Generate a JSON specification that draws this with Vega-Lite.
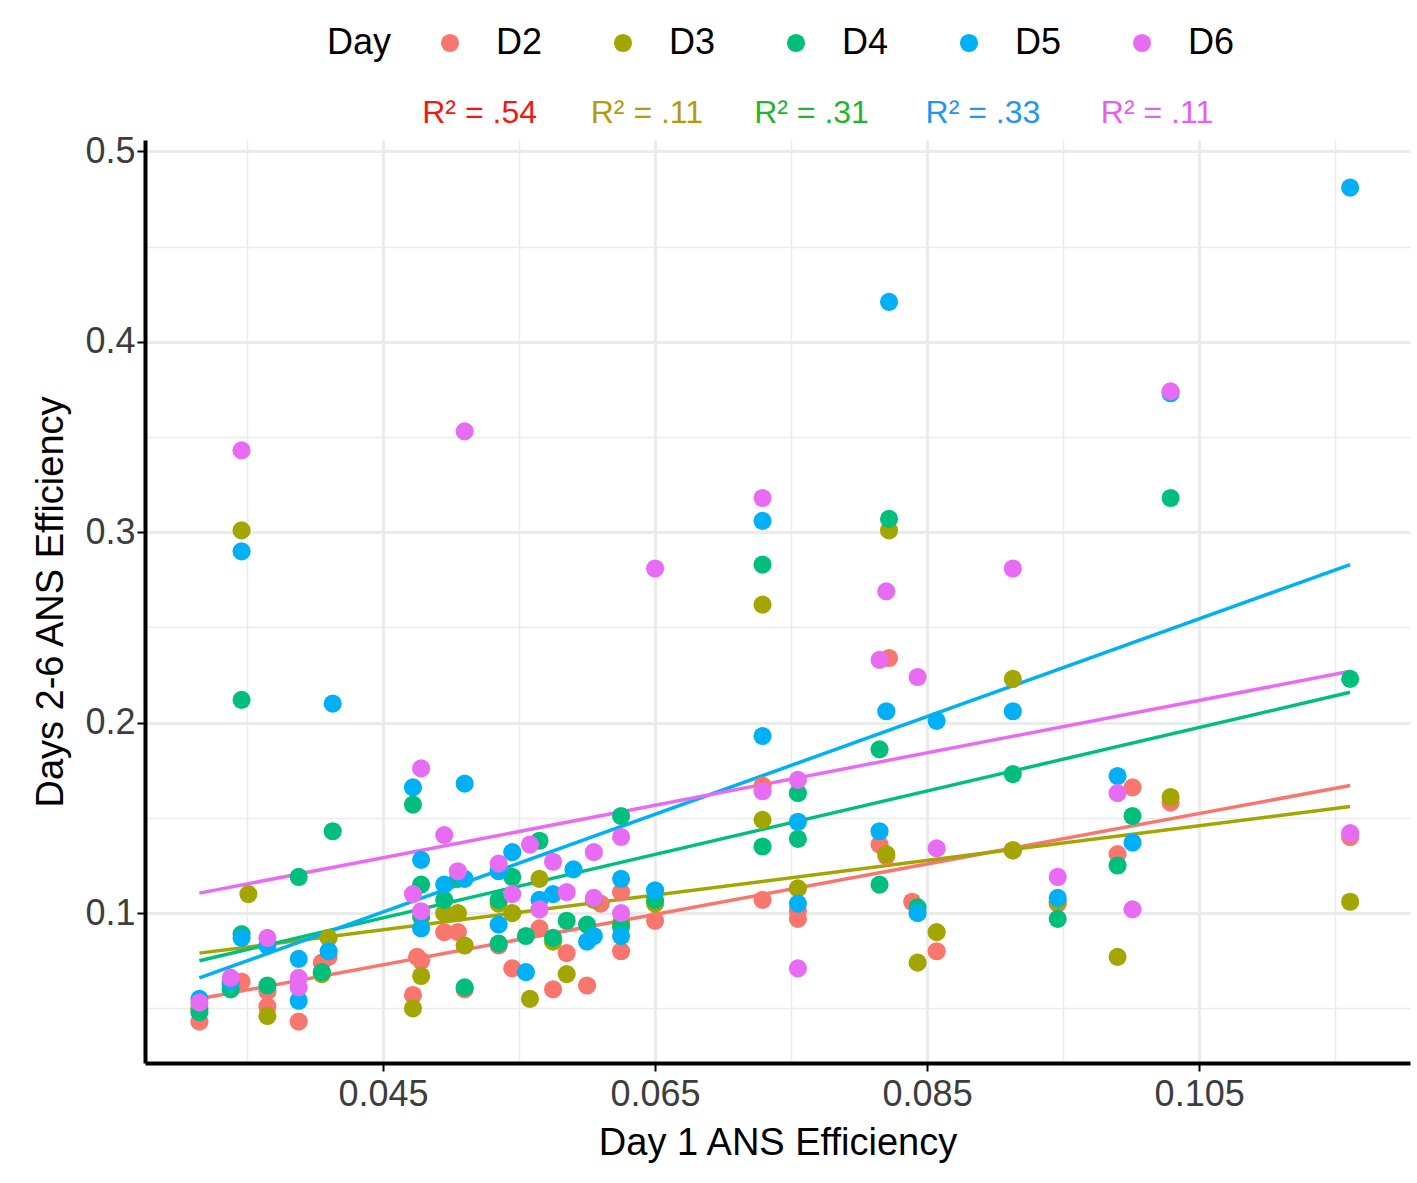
{
  "$schema": "https://vega.github.io/schema/vega-lite/v6.json",
  "width": 1265,
  "height": 923,
  "autosize": "none",
  "padding": {"left": 145, "top": 140, "right": 7, "bottom": 120},
  "background": "white",
  "config": {
    "font": "Liberation Sans",
    "view": {"stroke": null},
    "axis": {"gridColor": "#ebebeb", "domainColor": "black", "domainWidth": 4, "tickColor": "black", "tickWidth": 2, "tickSize": 8, "labelFontSize": 36, "labelColor": "#3d3d3d", "titleFontSize": 38, "titleFontWeight": "normal", "titleColor": "black"}
  },
  "datasets": {
    "pts": [
      {"day":"D2","x":0.0315,"y":0.043},{"day":"D2","x":0.0338,"y":0.063},{"day":"D2","x":0.0346,"y":0.064},{"day":"D2","x":0.0365,"y":0.051},{"day":"D2","x":0.0365,"y":0.059},{"day":"D2","x":0.0388,"y":0.043},{"day":"D2","x":0.0405,"y":0.074},{"day":"D2","x":0.041,"y":0.077},{"day":"D2","x":0.0472,"y":0.057},{"day":"D2","x":0.0475,"y":0.077},{"day":"D2","x":0.0478,"y":0.075},{"day":"D2","x":0.0495,"y":0.090},{"day":"D2","x":0.0505,"y":0.090},{"day":"D2","x":0.051,"y":0.060},{"day":"D2","x":0.0535,"y":0.083},{"day":"D2","x":0.0545,"y":0.071},{"day":"D2","x":0.0565,"y":0.092},{"day":"D2","x":0.0575,"y":0.060},{"day":"D2","x":0.0585,"y":0.079},{"day":"D2","x":0.060,"y":0.062},{"day":"D2","x":0.061,"y":0.105},{"day":"D2","x":0.0625,"y":0.111},{"day":"D2","x":0.0625,"y":0.080},{"day":"D2","x":0.065,"y":0.096},{"day":"D2","x":0.0729,"y":0.107},{"day":"D2","x":0.0729,"y":0.167},{"day":"D2","x":0.0755,"y":0.097},{"day":"D2","x":0.0755,"y":0.101},{"day":"D2","x":0.0815,"y":0.136},{"day":"D2","x":0.082,"y":0.130},{"day":"D2","x":0.0822,"y":0.234},{"day":"D2","x":0.0839,"y":0.106},{"day":"D2","x":0.0857,"y":0.080},{"day":"D2","x":0.0913,"y":0.133},{"day":"D2","x":0.0946,"y":0.105},{"day":"D2","x":0.099,"y":0.131},{"day":"D2","x":0.1001,"y":0.166},{"day":"D2","x":0.1029,"y":0.158},{"day":"D2","x":0.1161,"y":0.140},
      {"day":"D3","x":0.0315,"y":0.050},{"day":"D3","x":0.0338,"y":0.062},{"day":"D3","x":0.0346,"y":0.301},{"day":"D3","x":0.0351,"y":0.110},{"day":"D3","x":0.0365,"y":0.046},{"day":"D3","x":0.0405,"y":0.068},{"day":"D3","x":0.041,"y":0.087},{"day":"D3","x":0.0472,"y":0.050},{"day":"D3","x":0.0478,"y":0.067},{"day":"D3","x":0.0495,"y":0.100},{"day":"D3","x":0.0505,"y":0.100},{"day":"D3","x":0.051,"y":0.083},{"day":"D3","x":0.0535,"y":0.105},{"day":"D3","x":0.0545,"y":0.100},{"day":"D3","x":0.0558,"y":0.055},{"day":"D3","x":0.0565,"y":0.118},{"day":"D3","x":0.0575,"y":0.085},{"day":"D3","x":0.0585,"y":0.068},{"day":"D3","x":0.0605,"y":0.107},{"day":"D3","x":0.0625,"y":0.095},{"day":"D3","x":0.065,"y":0.105},{"day":"D3","x":0.0729,"y":0.262},{"day":"D3","x":0.0729,"y":0.149},{"day":"D3","x":0.0755,"y":0.113},{"day":"D3","x":0.082,"y":0.131},{"day":"D3","x":0.0822,"y":0.301},{"day":"D3","x":0.0843,"y":0.074},{"day":"D3","x":0.0857,"y":0.090},{"day":"D3","x":0.0913,"y":0.223},{"day":"D3","x":0.0913,"y":0.133},{"day":"D3","x":0.0946,"y":0.106},{"day":"D3","x":0.099,"y":0.077},{"day":"D3","x":0.1029,"y":0.161},{"day":"D3","x":0.1161,"y":0.106},
      {"day":"D4","x":0.0315,"y":0.048},{"day":"D4","x":0.0338,"y":0.060},{"day":"D4","x":0.0346,"y":0.212},{"day":"D4","x":0.0346,"y":0.089},{"day":"D4","x":0.0365,"y":0.062},{"day":"D4","x":0.0388,"y":0.119},{"day":"D4","x":0.0405,"y":0.069},{"day":"D4","x":0.0413,"y":0.143},{"day":"D4","x":0.0472,"y":0.157},{"day":"D4","x":0.0478,"y":0.115},{"day":"D4","x":0.0478,"y":0.098},{"day":"D4","x":0.0495,"y":0.107},{"day":"D4","x":0.0505,"y":0.118},{"day":"D4","x":0.051,"y":0.061},{"day":"D4","x":0.0535,"y":0.107},{"day":"D4","x":0.0535,"y":0.084},{"day":"D4","x":0.0545,"y":0.119},{"day":"D4","x":0.0555,"y":0.088},{"day":"D4","x":0.0565,"y":0.138},{"day":"D4","x":0.0575,"y":0.087},{"day":"D4","x":0.0585,"y":0.096},{"day":"D4","x":0.060,"y":0.094},{"day":"D4","x":0.0625,"y":0.151},{"day":"D4","x":0.0625,"y":0.093},{"day":"D4","x":0.065,"y":0.107},{"day":"D4","x":0.0729,"y":0.283},{"day":"D4","x":0.0729,"y":0.135},{"day":"D4","x":0.0755,"y":0.163},{"day":"D4","x":0.0755,"y":0.139},{"day":"D4","x":0.0815,"y":0.115},{"day":"D4","x":0.0815,"y":0.186},{"day":"D4","x":0.0822,"y":0.307},{"day":"D4","x":0.0843,"y":0.103},{"day":"D4","x":0.0913,"y":0.173},{"day":"D4","x":0.0946,"y":0.097},{"day":"D4","x":0.099,"y":0.125},{"day":"D4","x":0.1001,"y":0.151},{"day":"D4","x":0.1029,"y":0.318},{"day":"D4","x":0.1161,"y":0.223},
      {"day":"D5","x":0.0315,"y":0.055},{"day":"D5","x":0.0338,"y":0.064},{"day":"D5","x":0.0346,"y":0.290},{"day":"D5","x":0.0346,"y":0.087},{"day":"D5","x":0.0365,"y":0.083},{"day":"D5","x":0.0388,"y":0.076},{"day":"D5","x":0.0388,"y":0.054},{"day":"D5","x":0.041,"y":0.080},{"day":"D5","x":0.0413,"y":0.210},{"day":"D5","x":0.0472,"y":0.166},{"day":"D5","x":0.0478,"y":0.128},{"day":"D5","x":0.0478,"y":0.092},{"day":"D5","x":0.0495,"y":0.115},{"day":"D5","x":0.051,"y":0.168},{"day":"D5","x":0.051,"y":0.118},{"day":"D5","x":0.0535,"y":0.122},{"day":"D5","x":0.0535,"y":0.094},{"day":"D5","x":0.0545,"y":0.132},{"day":"D5","x":0.0555,"y":0.069},{"day":"D5","x":0.0565,"y":0.107},{"day":"D5","x":0.0575,"y":0.110},{"day":"D5","x":0.059,"y":0.123},{"day":"D5","x":0.060,"y":0.085},{"day":"D5","x":0.0605,"y":0.088},{"day":"D5","x":0.0625,"y":0.118},{"day":"D5","x":0.0625,"y":0.088},{"day":"D5","x":0.065,"y":0.112},{"day":"D5","x":0.0729,"y":0.193},{"day":"D5","x":0.0729,"y":0.306},{"day":"D5","x":0.0755,"y":0.148},{"day":"D5","x":0.0755,"y":0.105},{"day":"D5","x":0.0815,"y":0.143},{"day":"D5","x":0.082,"y":0.206},{"day":"D5","x":0.0822,"y":0.421},{"day":"D5","x":0.0843,"y":0.100},{"day":"D5","x":0.0857,"y":0.201},{"day":"D5","x":0.0913,"y":0.206},{"day":"D5","x":0.0946,"y":0.108},{"day":"D5","x":0.099,"y":0.172},{"day":"D5","x":0.1001,"y":0.137},{"day":"D5","x":0.1029,"y":0.373},{"day":"D5","x":0.1161,"y":0.481},
      {"day":"D6","x":0.0315,"y":0.053},{"day":"D6","x":0.0338,"y":0.066},{"day":"D6","x":0.0346,"y":0.343},{"day":"D6","x":0.0365,"y":0.087},{"day":"D6","x":0.0388,"y":0.066},{"day":"D6","x":0.0388,"y":0.061},{"day":"D6","x":0.0472,"y":0.110},{"day":"D6","x":0.0478,"y":0.176},{"day":"D6","x":0.0478,"y":0.101},{"day":"D6","x":0.0495,"y":0.141},{"day":"D6","x":0.0505,"y":0.122},{"day":"D6","x":0.051,"y":0.353},{"day":"D6","x":0.0535,"y":0.126},{"day":"D6","x":0.0545,"y":0.110},{"day":"D6","x":0.0558,"y":0.136},{"day":"D6","x":0.0565,"y":0.102},{"day":"D6","x":0.0575,"y":0.127},{"day":"D6","x":0.0585,"y":0.111},{"day":"D6","x":0.0605,"y":0.108},{"day":"D6","x":0.0605,"y":0.132},{"day":"D6","x":0.0625,"y":0.140},{"day":"D6","x":0.0625,"y":0.100},{"day":"D6","x":0.065,"y":0.281},{"day":"D6","x":0.0729,"y":0.318},{"day":"D6","x":0.0729,"y":0.164},{"day":"D6","x":0.0755,"y":0.170},{"day":"D6","x":0.0755,"y":0.071},{"day":"D6","x":0.0815,"y":0.233},{"day":"D6","x":0.082,"y":0.269},{"day":"D6","x":0.0843,"y":0.224},{"day":"D6","x":0.0857,"y":0.134},{"day":"D6","x":0.0913,"y":0.281},{"day":"D6","x":0.0946,"y":0.119},{"day":"D6","x":0.099,"y":0.163},{"day":"D6","x":0.1001,"y":0.102},{"day":"D6","x":0.1029,"y":0.374},{"day":"D6","x":0.1161,"y":0.142}
    ],
    "fits": [
      {"day":"D2","x":0.0315,"y":0.055},{"day":"D2","x":0.1161,"y":0.167},
      {"day":"D3","x":0.0315,"y":0.079},{"day":"D3","x":0.1161,"y":0.156},
      {"day":"D4","x":0.0315,"y":0.075},{"day":"D4","x":0.1161,"y":0.216},
      {"day":"D5","x":0.0315,"y":0.066},{"day":"D5","x":0.1161,"y":0.283},
      {"day":"D6","x":0.0315,"y":0.1105},{"day":"D6","x":0.1161,"y":0.227}
    ],
    "r2": [
      {"label":"R² = .54","x":0.0521,"y":0.52,"c":"#f8150e"},
      {"label":"R² = .11","x":0.0644,"y":0.52,"c":"#b59a0a"},
      {"label":"R² = .31","x":0.0765,"y":0.52,"c":"#1fb52a"},
      {"label":"R² = .33","x":0.0891,"y":0.52,"c":"#1e96f5"},
      {"label":"R² = .11","x":0.1019,"y":0.52,"c":"#e45ff0"}
    ]
  },
  "layer": [
    {
      "data": {"name": "fits"},
      "mark": {"type": "line", "strokeWidth": 3.5},
      "encoding": {
        "x": {"field": "x", "type": "quantitative", "scale": {"domain": [0.0275, 0.1205], "nice": false, "zero": false},
          "axis": {"values": [0.035, 0.045, 0.055, 0.065, 0.075, 0.085, 0.095, 0.105, 0.115],
            "labelExpr": "indexof([0.045,0.065,0.085,0.105], datum.value) >= 0 ? format(datum.value, '.3f') : ''",
            "tickOpacity": {"condition": {"test": "indexof([0.045,0.065,0.085,0.105], datum.value) >= 0", "value": 1}, "value": 0},
            "gridWidth": {"condition": {"test": "indexof([0.045,0.065,0.085,0.105], datum.value) >= 0", "value": 3}, "value": 1.5},
            "title": "Day 1 ANS Efficiency", "titlePadding": 12, "labelPadding": 6}},
        "y": {"field": "y", "type": "quantitative", "scale": {"domain": [0.0213, 0.506], "nice": false, "zero": false},
          "axis": {"values": [0.05, 0.1, 0.15, 0.2, 0.25, 0.3, 0.35, 0.4, 0.45, 0.5],
            "labelExpr": "indexof([0.1,0.2,0.3,0.4,0.5], datum.value) >= 0 ? format(datum.value, '.1f') : ''",
            "tickOpacity": {"condition": {"test": "indexof([0.1,0.2,0.3,0.4,0.5], datum.value) >= 0", "value": 1}, "value": 0},
            "gridWidth": {"condition": {"test": "indexof([0.1,0.2,0.3,0.4,0.5], datum.value) >= 0", "value": 3}, "value": 1.5},
            "title": "Days 2-6 ANS Efficiency", "titlePadding": 14}},
        "color": {"field": "day", "type": "nominal",
          "scale": {"domain": ["D2", "D3", "D4", "D5", "D6"], "range": ["#F8766D", "#A3A500", "#00BF7D", "#00B0F6", "#E76BF3"]},
          "legend": {"orient": "none", "legendX": 182, "legendY": -115, "direction": "horizontal", "title": "Day", "titleOrient": "left", "titleFontSize": 36, "titleFontWeight": "normal", "labelFontSize": 36, "symbolType": "circle", "symbolSize": 330, "symbolStrokeWidth": 0, "symbolOpacity": 1, "columnPadding": 62, "labelOffset": 28, "titlePadding": 40}}
      }
    },
    {
      "data": {"name": "pts"},
      "mark": {"type": "circle", "size": 330, "opacity": 1},
      "encoding": {
        "x": {"field": "x", "type": "quantitative"},
        "y": {"field": "y", "type": "quantitative"},
        "color": {"field": "day", "type": "nominal"}
      }
    },
    {
      "data": {"name": "r2"},
      "mark": {"type": "text", "fontSize": 32, "clip": false},
      "encoding": {
        "x": {"field": "x", "type": "quantitative"},
        "y": {"field": "y", "type": "quantitative"},
        "text": {"field": "label"},
        "color": {"field": "c", "type": "nominal", "scale": null}
      }
    }
  ]
}
